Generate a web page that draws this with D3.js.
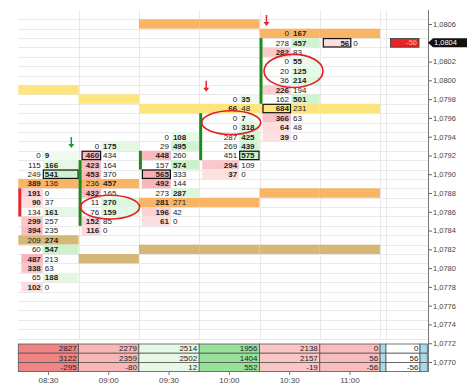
<!DOCTYPE html>
<html><head><meta charset="utf-8">
<script src="https://cdn.jsdelivr.net/npm/d3@7"></script>
<style>body{margin:0;background:#fff;} svg{display:block;font-family:"Liberation Sans",Arial,sans-serif;}</style>
</head><body><svg id="c" width="467" height="391"></svg>
<script>
// ---------- DATA ----------
const times = ["08:30","09:00","09:30","10:00","10:30","11:00"];
const highs = [1.0792, 1.0793, 1.0794, 1.0798, 1.0805, 1.0804];
const bids = [
  [0,115,249,389,191,90,134,299,394,209,60,487,338,65,102],
  [0,460,423,453,236,432,11,76,152,116],
  [0,29,448,157,565,492,273,281,196,61],
  [0,66,0,0,287,269,451,294,37],
  [0,278,282,0,20,36,226,162,684,366,64,39],
  [56]
];
const asks = [
  [9,166,541,136,0,37,161,257,235,274,547,213,63,188,0],
  [175,434,164,370,457,165,270,159,85,0],
  [108,495,260,574,333,144,287,271,42,0],
  [35,48,7,318,425,439,575,109,0],
  [167,457,83,55,125,214,194,501,231,63,48,0],
  [0]
];
const yellowLevel = [1.0799, 1.0798, 1.0797, 1.0797, 1.0797, 1.0797];
const orangeLevel = [1.0789, 1.0789, 1.0787, 1.0787, 1.0788, 1.0788];
const khakiLevel  = [1.0783, 1.0781, 1.0782, 1.0782, 1.0782, 1.0782];
const topLevel    = [null, null, 1.0806, 1.0806, 1.0805, 1.0805];
const barOpen  = [1.0788, 1.0785, 1.0791, 1.0792, 1.0798, null];
const barClose = [1.0786, 1.0791, 1.0792, 1.0796, 1.0804, null];
const arrowCols = [0, 3, 4];
const arrowDir  = ["up", "down", "down"]; // colour: green / red
const ellipseCols   = [1, 3, 4];
const ellipsePrices = [1.07865, 1.07955, 1.0801];
const ellipseRows   = [2, 2, 3];
const extraTotals = [0, 56, -56];
const lastPrice = 1.0804;
const lastDelta = -56;
const priceTicks = d3.range(0, 19).map(i => +(1.0770 + i*0.0002).toFixed(4));

// ---------- LAYOUT ----------
const svg = d3.select("#c");
const x = d3.scaleBand().domain(times).range([18.3, 380.1]).padding(0);
const cw = x.bandwidth();
const y = d3.scaleLinear().domain([1.0770, 1.0806]).range([362, 24]);
const rh = y(1.0805) - y(1.0806);
const split = [24.5, 22.5, 32, 40, 31.5, 31.5];
const arrowOff = [53, 7, 7];
const ellOff = [31.5, 32, 34];
const axisX = 428;
const r4 = v => Math.round(v*10000)/10000;

// grid
const gGrid = svg.append("g").attr("stroke", "#e9e9e9").attr("stroke-width", 1);
for (let k = 0; k <= 35; k++) {
  const yy = Math.round(y(1.0807) + rh/2 + k*rh) + 0.5;
  gGrid.append("line").attr("x1", 18).attr("x2", axisX).attr("y1", yy).attr("y2", yy);
}
const vlines = times.slice(1).map(t => x(t)).concat([x.range()[1], 386]);
vlines.forEach(v => gGrid.append("line").attr("x1", Math.round(v)+0.5).attr("x2", Math.round(v)+0.5).attr("y1", 10).attr("y2", 339));

// bands
const bandColors = {yellow:"#fde47c", orange:"#fab466", khaki:"#d5b877"};
function band(levels, color) {
  levels.forEach((p, c) => {
    if (p == null) return;
    svg.append("rect").attr("x", x(times[c])).attr("width", cw)
      .attr("y", y(p) - rh/2).attr("height", rh).attr("fill", color);
  });
}
band(topLevel, bandColors.orange);
band(yellowLevel, bandColors.yellow);
band(orangeLevel, bandColors.orange);
band(khakiLevel, bandColors.khaki);

// cell colour scales
const pink = d3.scaleLinear().domain([0, 700]).range(["#fee4e4", "#f4a2a8"]).clamp(true);
const green = d3.scaleLinear().domain([0, 600]).range(["#effbef", "#c9f1c9"]).clamp(true);

const gCells = svg.append("g");
const gText = svg.append("g").attr("font-size", 8).attr("fill", "#222");
times.forEach((t, c) => {
  const x0 = x(t);
  const xs = x0 + split[c];
  // POC = row with max total
  const tot = bids[c].map((b, i) => b + asks[c][i]);
  const poc = tot.indexOf(d3.max(tot));
  bids[c].forEach((b, i) => {
    const a = asks[c][i];
    const p = r4(highs[c] - i*0.0001);
    const yc = y(p);
    const inBand = [yellowLevel[c], orangeLevel[c], khakiLevel[c], topLevel[c]].some(l => l != null && r4(l) === p);
    if (!inBand) {
      if (b > a) gCells.append("rect").attr("x", x0 + 3).attr("width", xs - x0 - 3).attr("y", yc - rh/2).attr("height", rh).attr("fill", pink(b));
      else if (a > b) gCells.append("rect").attr("x", xs).attr("width", x0 + cw - xs).attr("y", yc - rh/2).attr("height", rh).attr("fill", green(a));
    }
    gText.append("text").attr("x", xs - 2).attr("y", yc).attr("dy", "0.36em").attr("text-anchor", "end")
      .attr("font-weight", b > a ? "bold" : "normal").text(b);
    gText.append("text").attr("x", xs + 2).attr("y", yc).attr("dy", "0.36em")
      .attr("font-weight", a > b ? "bold" : "normal").text(a);
    if (i === poc) {
      const bx = b >= a ? x0 + 3 : xs, bw = b >= a ? xs - x0 - 3 : x0 + cw - xs;
      svg.append("rect").attr("x", bx + 0.5).attr("y", yc - rh/2 + 0.5).attr("width", bw - 1).attr("height", rh - 1)
        .attr("fill", "none").attr("stroke", "#111").attr("stroke-width", 1.2);
    }
  });
});
svg.node().appendChild(gText.node());

// candle body bars
times.forEach((t, c) => {
  if (barOpen[c] == null) return;
  const top = Math.max(barOpen[c], barClose[c]), bot = Math.min(barOpen[c], barClose[c]);
  svg.append("rect").attr("x", x(t)).attr("width", 3)
    .attr("y", y(top) - rh/2).attr("height", y(bot) - y(top) + rh)
    .attr("fill", barClose[c] >= barOpen[c] ? "#1d8a1d" : "#e0282e");
});

// arrows
arrowCols.forEach((c, k) => {
  const ax = x(times[c]) + arrowOff[k];
  const tip = y(r4(highs[c] + 0.0001)) + 2;
  const col = arrowDir[k] === "up" ? "#22992a" : "#e0282e";
  svg.append("line").attr("x1", ax).attr("x2", ax).attr("y1", tip - 11).attr("y2", tip - 3)
    .attr("stroke", col).attr("stroke-width", 1.5);
  svg.append("path").attr("d", `M${ax-3},${tip-4}L${ax+3},${tip-4}L${ax},${tip}Z`).attr("fill", col);
});

// ellipses
ellipseCols.forEach((c, k) => {
  svg.append("ellipse").attr("cx", x(times[c]) + ellOff[k]).attr("cy", y(ellipsePrices[k]))
    .attr("rx", 29.5).attr("ry", ellipseRows[k]*rh/2 + 2.5)
    .attr("fill", "none").attr("stroke", "#e02020").attr("stroke-width", 1.6);
});

// last-bar delta box
const yl = y(lastPrice);
svg.append("rect").attr("x", 390.5).attr("y", yl - 4.2).attr("width", 28.5).attr("height", 8.6)
  .attr("fill", "#e82424").attr("stroke", "#333").attr("stroke-width", 0.8);
svg.append("text").attr("x", 417).attr("y", yl).attr("dy", "0.36em").attr("text-anchor", "end")
  .attr("font-size", 7.5).attr("fill", "#ffb0b0").text(lastDelta);

// summary table
const sumAsk = asks.map(a => d3.sum(a)), sumBid = bids.map(b => d3.sum(b));
const deltas = sumAsk.map((a, i) => a - sumBid[i]);
const negC = d3.scaleLinear().domain([0, 300]).range(["#fbcaca", "#f08282"]).clamp(true);
const posC = d3.scaleLinear().domain([0, 550]).range(["#e8f9e8", "#98e198"]).clamp(true);
const sy0 = 344, sh = 9.2;
const gSum = svg.append("g").attr("font-size", 8).attr("fill", "#222");
times.forEach((t, c) => {
  const vals = [sumAsk[c], sumBid[c], deltas[c]];
  const fill = deltas[c] < 0 ? negC(-deltas[c]) : posC(deltas[c]);
  vals.forEach((v, r) => {
    gSum.append("rect").attr("x", x(t)).attr("y", sy0 + r*sh).attr("width", cw).attr("height", sh)
      .attr("fill", fill).attr("stroke", "#555").attr("stroke-width", 0.8);
    gSum.append("text").attr("x", x(t) + cw - 2).attr("y", sy0 + r*sh + sh/2).attr("dy", "0.36em")
      .attr("text-anchor", "end").text(v);
  });
});
extraTotals.forEach((v, r) => {
  const yy = sy0 + r*sh;
  gSum.append("rect").attr("x", 380.1).attr("y", yy).attr("width", 5.9).attr("height", sh).attr("fill", "#a9d9ea").attr("stroke", "#555").attr("stroke-width", 0.8);
  gSum.append("rect").attr("x", 386).attr("y", yy).attr("width", 34).attr("height", sh).attr("fill", "#fff").attr("stroke", "#555").attr("stroke-width", 0.8);
  gSum.append("rect").attr("x", 420).attr("y", yy).attr("width", 7.3).attr("height", sh).attr("fill", "#a9d9ea").attr("stroke", "#555").attr("stroke-width", 0.8);
  gSum.append("text").attr("x", 418.5).attr("y", yy + sh/2).attr("dy", "0.36em").attr("text-anchor", "end").text(v);
});

// y axis
const yAxis = d3.axisRight(y).tickValues(priceTicks.filter(p => p !== lastPrice))
  .tickFormat(d => d.toFixed(4).replace(".", ",")).tickSize(4).tickSizeOuter(0).tickPadding(1);
const gy = svg.append("g").attr("transform", `translate(${axisX},0)`).call(yAxis);
gy.select(".domain").remove();
gy.selectAll("text").attr("font-size", 7.5).attr("fill", "#444").attr("font-family", "Liberation Sans, Arial, sans-serif");
gy.selectAll("line").attr("stroke", "#666");
svg.append("line").attr("x1", axisX + 0.5).attr("x2", axisX + 0.5).attr("y1", 10).attr("y2", 372).attr("stroke", "#777");

// last price label
svg.append("path").attr("d", `M${axisX},${yl}L${axisX+5},${yl-4.5}L467,${yl-4.5}L467,${yl+4.5}L${axisX+5},${yl+4.5}Z`).attr("fill", "#111");
svg.append("text").attr("x", axisX + 6).attr("y", yl).attr("dy", "0.36em").attr("font-size", 7.5).attr("fill", "#fff")
  .text(lastPrice.toFixed(4).replace(".", ","));

// x axis
const xAxis = d3.axisBottom(x).tickSize(3).tickSizeOuter(0).tickPadding(2);
const gx = svg.append("g").attr("transform", "translate(0,372)").call(xAxis);
gx.select(".domain").remove();
gx.selectAll("text").attr("font-size", 8).attr("fill", "#444").attr("font-family", "Liberation Sans, Arial, sans-serif");
gx.selectAll("line").attr("stroke", "#777");
</script></body></html>
